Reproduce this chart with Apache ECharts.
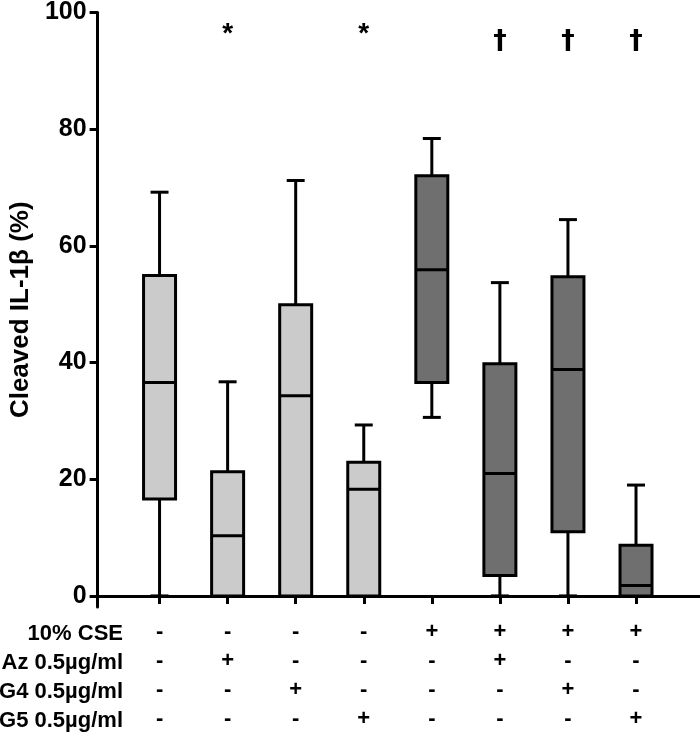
<!DOCTYPE html>
<html><head><meta charset="utf-8">
<script src="https://cdn.jsdelivr.net/npm/echarts@6/dist/echarts.min.js"></script>
<style>html,body{margin:0;padding:0;background:#fff}#c{width:700px;height:733px}</style>
</head><body><div id="c"></div>
<script>
// ---- data ----
const groups = [1, 2, 3, 4, 5, 6, 7, 8];
const whiskerLow  = [0,    0,    0,    0,    30.6, 0,    0,    0];
const q1          = [16.6, 0,    0,    0,    36.6, 3.5,  11.0, 0];
const median      = [36.6, 10.3, 34.3, 18.3, 55.9, 21.0, 38.8, 1.8];
const q3          = [54.9, 21.3, 49.9, 22.9, 72.0, 39.8, 54.7, 8.7];
const whiskerHigh = [69.2, 36.7, 71.2, 29.3, 78.4, 53.7, 64.5, 19.0];
const cse = ['-', '-', '-', '-', '+', '+', '+', '+'];
const az  = ['-', '+', '-', '-', '-', '+', '-', '-'];
const g4  = ['-', '-', '+', '-', '-', '-', '+', '-'];
const g5  = ['-', '-', '-', '+', '-', '-', '-', '+'];
const rowNames = ['10% CSE', 'Az 0.5µg/ml', 'G4 0.5µg/ml', 'G5 0.5µg/ml'];
const significance = ['', '*', '', '*', '', '†', '†', '†'];
const yTicks = [0, 20, 40, 60, 80, 100];
const yName = 'Cleaved IL-1β (%)';

// ---- style ----
const FONT = 'Liberation Sans, Arial, sans-serif';
const LIGHT = '#cbcbcb';
const DARK = '#6f6f6f';
const ROW_H = 29;
const markStyle = {
  '*': {level: 96.3, font: 'Liberation Sans, Arial, sans-serif', size: 28},
  '†': {level: 95, font: 'DejaVu Sans, sans-serif', size: 27}
};

const boxData = groups.map((g, i) => [g, whiskerLow[i], q1[i], median[i], q3[i], whiskerHigh[i]]);
const rows = [cse, az, g4, g5];

const chart = echarts.init(document.getElementById('c'), null, {renderer: 'canvas'});
chart.setOption({
  animation: false,
  backgroundColor: '#fff',
  grid: {left: 97, right: 0, top: 8, bottom: 124, containLabel: false},
  xAxis: {
    type: 'value', min: 0.09, max: 8.94,
    splitLine: {show: false},
    axisLine: {show: true, lineStyle: {color: '#000', width: 3}},
    axisTick: {show: true, customValues: groups, length: 8, inside: false, lineStyle: {color: '#000', width: 3}},
    axisLabel: {
      show: true, customValues: groups, margin: 10,
      fontFamily: FONT, fontWeight: 'bold', fontSize: 22, lineHeight: ROW_H, color: '#000',
      formatter: v => { const i = Math.round(v) - 1; return rows.map(r => r[i]).join('\n'); }
    }
  },
  yAxis: {
    type: 'value', min: -1.9, max: 100,
    splitLine: {show: false},
    axisLine: {show: true, lineStyle: {color: '#000', width: 3}},
    axisTick: {show: true, customValues: yTicks, length: 8, lineStyle: {color: '#000', width: 3}},
    axisLabel: {show: true, customValues: yTicks, margin: 11, fontFamily: FONT, fontWeight: 'bold', fontSize: 25, color: '#000'},
    name: yName, nameLocation: 'middle', nameGap: 58, nameRotate: 90,
    nameTextStyle: {fontFamily: FONT, fontWeight: 'bold', fontSize: 26, color: '#000'}
  },
  graphic: rowNames.map((n, i) => ({
    type: 'text', x: 123, y: 634 + ROW_H * i, silent: true,
    style: {text: n, align: 'right', verticalAlign: 'middle', fontFamily: FONT, fontWeight: 'bold', fontSize: 22, fill: '#000'}
  })),
  series: [{
    type: 'custom',
    clip: false,
    data: boxData,
    encode: {x: 0, y: [1, 2, 3, 4, 5]},
    renderItem: function (params, api) {
      const i = params.dataIndex;
      const xv = api.value(0);
      const cx = api.coord([xv, 0])[0];
      const Y = v => api.coord([xv, v])[1];
      const unit = api.size([1, 0])[0];
      const hw = unit * 0.235, cw = unit * 0.132;
      const yLo = Y(api.value(1)), yQ1 = Y(api.value(2)), yMed = Y(api.value(3)), yQ3 = Y(api.value(4)), yHi = Y(api.value(5));
      const ls = {stroke: '#000', lineWidth: 3};
      const fill = cse[i] === '+' ? DARK : LIGHT;
      const children = [
        {type: 'line', shape: {x1: cx, y1: yHi, x2: cx, y2: yQ3}, style: ls},
        {type: 'line', shape: {x1: cx, y1: yLo, x2: cx, y2: yQ1}, style: ls},
        {type: 'line', shape: {x1: cx - cw, y1: yHi, x2: cx + cw, y2: yHi}, style: ls},
        {type: 'line', shape: {x1: cx - cw, y1: yLo, x2: cx + cw, y2: yLo}, style: ls},
        {type: 'rect', shape: {x: cx - hw, y: yQ3, width: 2 * hw, height: yQ1 - yQ3}, style: {fill: fill, stroke: '#000', lineWidth: 3}},
        {type: 'line', shape: {x1: cx - hw, y1: yMed, x2: cx + hw, y2: yMed}, style: ls}
      ];
      const s = significance[i];
      if (s) {
        const m = markStyle[s];
        children.push({type: 'text', x: cx, y: Y(m.level),
          style: {text: s, align: 'center', verticalAlign: 'middle', fontFamily: m.font, fontWeight: 'bold', fontSize: m.size, fill: '#000'}});
      }
      return {type: 'group', children: children};
    }
  }]
});
</script>
</body></html>
